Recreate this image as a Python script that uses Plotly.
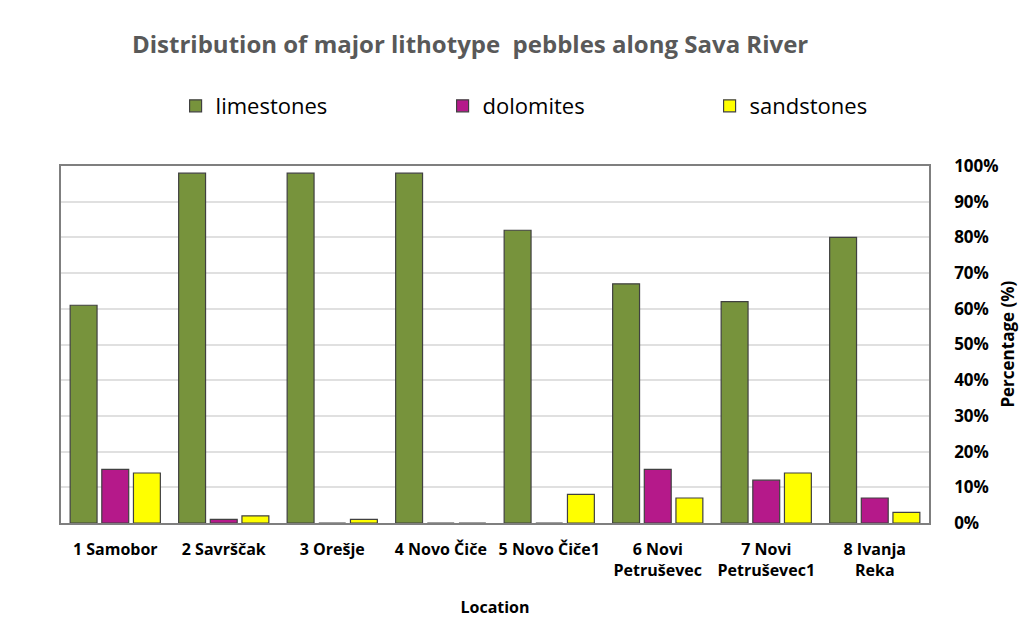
import plotly.graph_objects as go

locations = ["1 Samobor", "2 Savrščak", "3 Orešje", "4 Novo Čiče", "5 Novo Čiče1",
             "6 Novi<br>Petruševec", "7 Novi<br>Petruševec1", "8 Ivanja<br>Reka"]
limestones = [61, 98, 98, 98, 82, 67, 62, 80]
dolomites = [15, 1, 0, 0, 0, 15, 12, 7]
sandstones = [14, 2, 1, 0, 8, 7, 14, 3]
y_ticks = [0, 10, 20, 30, 40, 50, 60, 70, 80, 90, 100]

FONT = "Open Sans, sans-serif"
line = dict(color="#404040", width=1.2)

fig = go.Figure()
fig.add_trace(go.Bar(x=locations, y=limestones, name="limestones",
                     marker=dict(color="#77933C", line=line)))
fig.add_trace(go.Bar(x=locations, y=dolomites, name="dolomites",
                     marker=dict(color="#B5198A", line=line)))
fig.add_trace(go.Bar(x=locations, y=sandstones, name="sandstones",
                     marker=dict(color="#FFFF00", line=line)))

fig.update_layout(
    width=1027, height=617,
    margin=dict(l=53, r=106, t=158, b=102, autoexpand=False),
    paper_bgcolor="white", plot_bgcolor="white",
    font=dict(family=FONT, color="#000000"),
    barmode="group", bargap=0.125, bargroupgap=0.15,
    title=dict(text="<b>Distribution of major lithotype  pebbles along Sava River</b>",
               x=0.45, xanchor="center", y=0.94, yanchor="middle",
               font=dict(size=24, color="#595959", family=FONT)),
    legend=dict(orientation="h", x=0.132, xanchor="left", y=1.168, yanchor="middle",
                font=dict(size=22, color="#000000", family=FONT),
                entrywidth=222, itemwidth=30),
    showlegend=True,
    annotations=[dict(text="<b>Percentage (%)</b>", xref="paper", yref="paper",
                      x=1.09, y=0.5, xanchor="center", yanchor="middle",
                      textangle=-90, showarrow=False,
                      font=dict(size=17, family=FONT, color="#000000"))],
)
fig.update_xaxes(
    showline=True, linecolor="#7f7f7f", linewidth=1.5, mirror=True,
    tickfont=dict(size=16, color="#000000", family=FONT),
    title=dict(text="<b>Location</b>", font=dict(size=16, family=FONT), standoff=22),
    tickprefix="<b>", ticksuffix="</b>",
    ticks="outside", ticklen=11, tickcolor="rgba(0,0,0,0)",
)
fig.update_yaxes(
    side="right", range=[0, 100], tickvals=y_ticks,
    ticktext=[f"<b>{v}%</b>" for v in y_ticks],
    showgrid=True, gridcolor="#e0e0e0", gridwidth=1.5,
    showline=True, linecolor="#7f7f7f", linewidth=1.5, mirror=True,
    tickfont=dict(size=17, color="#000000", family=FONT),
    ticks="outside", ticklen=20, tickcolor="rgba(0,0,0,0)",
    zeroline=False,
)
fig.write_html("out.html")
